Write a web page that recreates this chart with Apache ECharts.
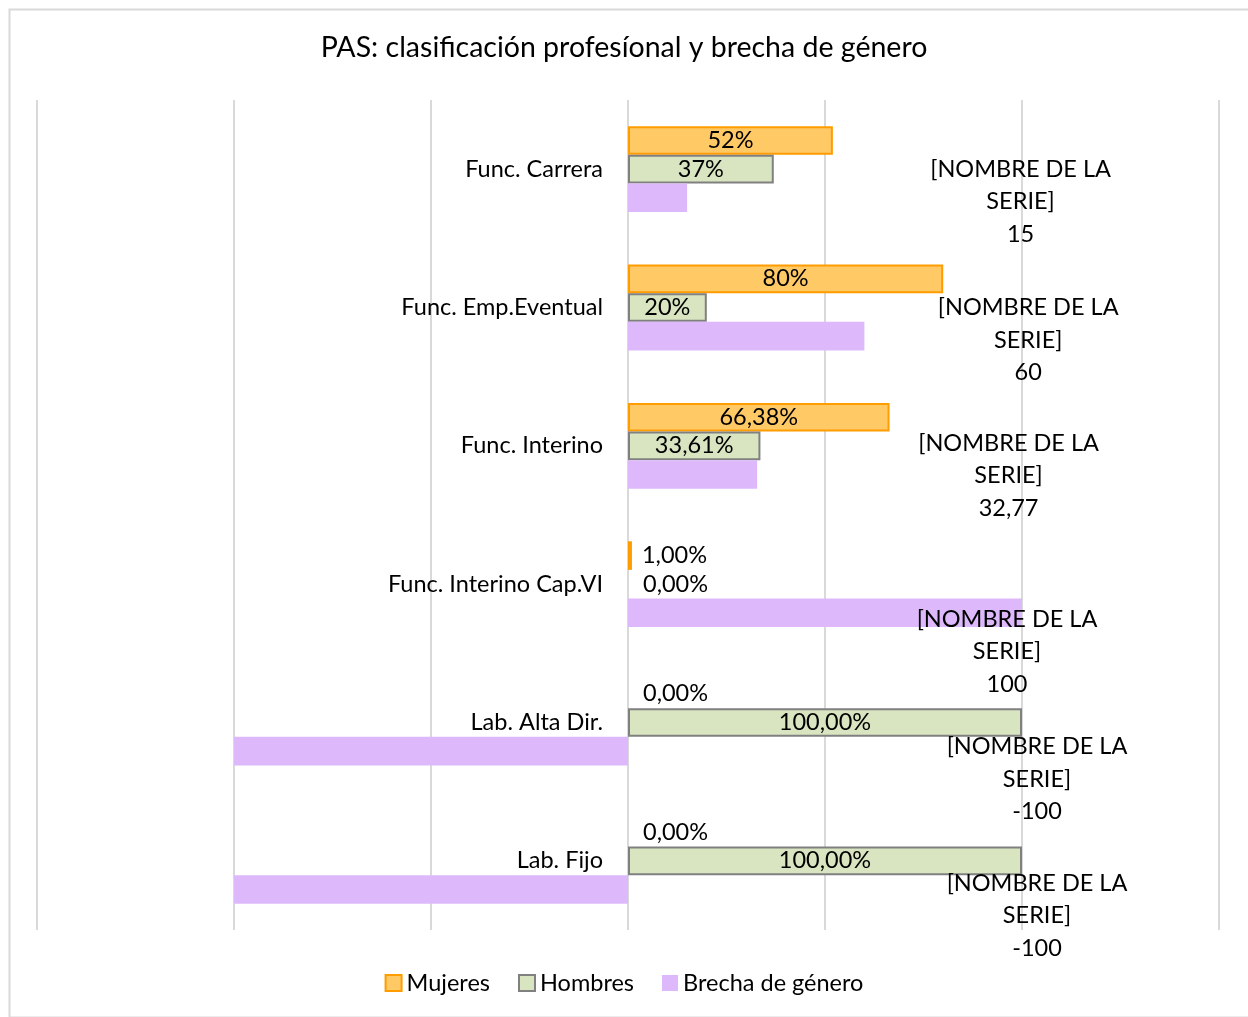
<!DOCTYPE html>
<html>
<head>
<meta charset="utf-8">
<script src="https://cdn.jsdelivr.net/npm/echarts@6/dist/echarts.min.js"></script>
<style>
  html, body { margin: 0; padding: 0; background: #fff; }
  #chart-box { width: 1248px; height: 1017px; }
</style>
</head>
<body>
<div id="chart-box"></div>
<script>
const categories = [
  "Func. Carrera",
  "Func. Emp.Eventual",
  "Func. Interino",
  "Func. Interino Cap.VI",
  "Lab. Alta Dir.",
  "Lab. Fijo",
];
const mujeres = [52, 80, 66.38, 1, 0, 0];
const hombres = [37, 20, 33.61, 0, 100, 100];
const brecha = [15, 60, 32.77, 100, -100, -100];
const mujeresText = ["52%", "80%", "66,38%", "1,00%", "0,00%", "0,00%"];
const hombresText = ["37%", "20%", "33,61%", "0,00%", "100,00%", "100,00%"];
const brechaText = ["15", "60", "32,77", "100", "-100", "-100"];

// excel put the brecha labels by hand, offsets from the bar centre
const brechaOffsets = [
  [363, 4],
  [282, 4],
  [316, 1],
  [182, 39],
  [606, 28],
  [606, 26],
];

const FONT = "Lato, 'Noto Sans', sans-serif";
const LABEL_SIZE = 23.5;

const chart = echarts.init(document.getElementById("chart-box"));

// small bars get their label outside, on the right; zero bars draw nothing
function barLabels(values, texts) {
  return values.map((v, i) => {
    const small = Math.abs(v) < 10;
    const item = {
      value: v,
      label: {
        show: true,
        position: small ? "right" : "inside",
        distance: v === 0 ? 15 : 10,
        formatter: texts[i],
      },
    };
    if (v === 0) item.itemStyle = { borderWidth: 0 };
    return item;
  });
}

const option = {
  animation: false,
  title: {
    text: "PAS: clasificación profesíonal y brecha de género",
    left: "center",
    top: 28,
    textStyle: {
      fontFamily: FONT,
      fontWeight: "normal",
      fontSize: 28.5,
      color: "#000",
    },
  },
  legend: {
    bottom: 17,
    left: "center",
    icon: "rect",
    itemWidth: 16,
    itemHeight: 16,
    itemGap: 28,
    textStyle: { fontFamily: FONT, fontSize: 23.5, color: "#000" },
    data: ["Mujeres", "Hombres", "Brecha de género"],
  },
  graphic: [
    {
      type: "rect",
      left: 7,
      top: 7,
      shape: { width: 1240, height: 1008 },
      style: { fill: "none", stroke: "#d9d9d9", lineWidth: 2 },
      silent: true,
      z: -1,
    },
  ],
  grid: {
    left: 37,
    right: 29,
    top: 100,
    bottom: 87,
    containLabel: false,
    outerBoundsMode: "none",
  },
  xAxis: {
    type: "value",
    min: -150,
    max: 150,
    interval: 50,
    axisLabel: { show: false },
    axisLine: { show: false },
    axisTick: { show: false },
    splitLine: { lineStyle: { color: "#d9d9d9", width: 2 } },
  },
  yAxis: {
    type: "category",
    inverse: true,
    data: categories,
    // put the category axis on the zero line (grid is 1182px wide)
    offset: -591,
    axisLine: { show: false },
    axisTick: { show: false },
    axisLabel: {
      margin: 25,
      fontFamily: FONT,
      fontSize: LABEL_SIZE,
      color: "#000",
    },
  },
  series: [
    {
      name: "Mujeres",
      type: "bar",
      barGap: "0%",
      barCategoryGap: "38%",
      itemStyle: { color: "#FFC966", borderColor: "#FF9C00", borderWidth: 2 },
      label: { fontFamily: FONT, fontSize: LABEL_SIZE, color: "#000" },
      data: barLabels(mujeres, mujeresText),
    },
    {
      name: "Hombres",
      type: "bar",
      barGap: "0%",
      barCategoryGap: "38%",
      itemStyle: { color: "#D9E4C1", borderColor: "#808080", borderWidth: 2 },
      label: { fontFamily: FONT, fontSize: LABEL_SIZE, color: "#000" },
      data: barLabels(hombres, hombresText),
    },
    {
      name: "Brecha de género",
      type: "bar",
      barGap: "0%",
      barCategoryGap: "38%",
      itemStyle: { color: "#DDB8FB" },
      label: {
        show: true,
        position: "inside",
        fontFamily: FONT,
        fontSize: LABEL_SIZE,
        lineHeight: 32.5,
        align: "center",
        color: "#000",
      },
      data: brecha.map((v, i) => ({
        value: v,
        label: {
          offset: brechaOffsets[i],
          formatter: "[NOMBRE DE LA\nSERIE]\n" + brechaText[i],
        },
      })),
    },
  ],
};

chart.setOption(option);
</script>
</body>
</html>
